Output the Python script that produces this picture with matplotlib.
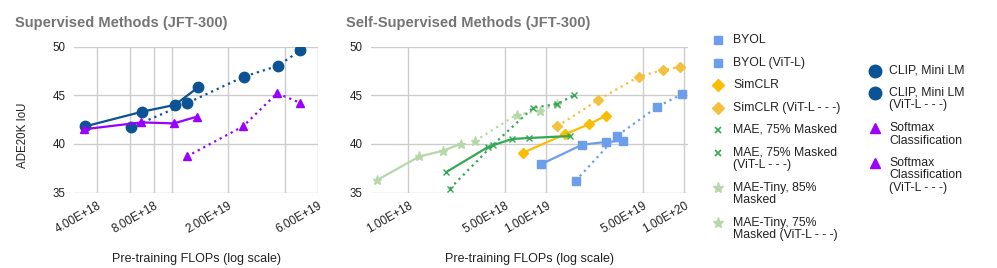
import matplotlib
matplotlib.use("Agg")
import matplotlib.pyplot as plt
from matplotlib.ticker import FixedLocator, FixedFormatter, NullLocator, NullFormatter

plt.rcParams['font.family'] = ['Liberation Sans', 'DejaVu Sans']

# ---------------- data ----------------
# Supervised (left)
clip_x = [3.45e18, 6.93e18, 1.036e19, 1.38e19]
clip_y = [41.8, 43.3, 44.0, 45.8]
clip_l_x = [6.08e18, 1.21e19, 2.42e19, 3.66e19, 4.85e19]
clip_l_y = [41.7, 44.2, 46.9, 48.0, 49.6]
soft_x = [3.41e18, 6.86e18, 1.024e19, 1.366e19]
soft_y = [41.5, 42.2, 42.1, 42.8]
soft_l_x = [1.2e19, 2.4e19, 3.64e19, 4.85e19]
soft_l_y = [38.7, 41.8, 45.2, 44.2]

# Self-supervised (right)
byol_x = [9.15e18, 1.81e19, 2.72e19, 3.61e19]
byol_y = [37.9, 39.9, 40.2, 40.3]
byol_l_x = [1.63e19, 3.24e19, 6.37e19, 9.62e19]
byol_l_y = [36.2, 40.8, 43.8, 45.1]
simclr_x = [6.81e18, 1.37e19, 2.03e19, 2.71e19]
simclr_y = [39.1, 41.0, 42.0, 42.9]
simclr_l_x = [1.2e19, 2.37e19, 4.67e19, 7.01e19, 9.35e19]
simclr_l_y = [41.8, 44.5, 46.9, 47.6, 47.9]
mae_x = [1.88e18, 3.8e18, 5.64e18, 7.53e18, 1.48e19]
mae_y = [37.1, 39.7, 40.5, 40.6, 40.8]
mae_l_x = [2.0e18, 4.1e18, 8.0e18, 1.2e19, 1.59e19]
mae_l_y = [35.4, 39.9, 43.7, 44.1, 45.0]
tiny_x = [5.96e17, 1.2e18, 1.79e18, 2.4e18]
tiny_y = [36.3, 38.7, 39.3, 40.0]
tiny_l_x = [3.04e18, 6.1e18, 9.05e18, 1.2e19]
tiny_l_y = [40.3, 43.0, 43.4, 44.1]

left_ticks = [4e18, 8e18, 2e19, 6e19]
left_ticklabels = ["4.00E+18", "8.00E+18", "2.00E+19", "6.00E+19"]
left_minor = [6e18, 1e19, 4e19]
right_ticks = [1e18, 5e18, 1e19, 5e19, 1e20]
right_ticklabels = ["1.00E+18", "5.00E+18", "1.00E+19", "5.00E+19", "1.00E+20"]
y_ticks = [35, 40, 45, 50]

titles = ["Supervised Methods (JFT-300)", "Self-Supervised Methods (JFT-300)"]
xlabel = "Pre-training FLOPs (log scale)"
ylabel = "ADE20K IoU"

legend_col1 = ["BYOL", "BYOL (ViT-L)", "SimCLR", "SimCLR (ViT-L - - -)",
               "MAE, 75% Masked", "MAE, 75% Masked\n(ViT-L - - -)",
               "MAE-Tiny, 85%\nMasked", "MAE-Tiny, 75%\nMasked (ViT-L - - -)"]
legend_col2 = ["CLIP, Mini LM", "CLIP, Mini LM\n(ViT-L - - -)",
               "Softmax\nClassification", "Softmax\nClassification\n(ViT-L - - -)"]

# ---------------- styles ----------------
C_BYOL = '#6d9eeb'
C_SIM = '#fbbc04'
C_SIM_L = '#f4c13e'
C_MAE = '#34a853'
C_TINY = '#b6d7a8'
C_CLIP = '#0b5394'
C_SOFT = '#9900ff'
GRID = '#cccccc'
TXT = '#222222'
DOT = (0, (1, 1.8))
LW = 1.6

W, H = 997, 268
fig = plt.figure(figsize=(W / 100, H / 100), dpi=100)

def px_axes(x0, x1, y0, y1):
    return fig.add_axes([x0 / W, 1 - y1 / H, (x1 - x0) / W, (y1 - y0) / H])

axL = px_axes(74, 318, 46.5, 192.5)
axR = px_axes(371, 688, 46.5, 192.5)

def style(ax, xlim, ticks, labels, minor):
    ax.set_xscale('log')
    ax.set_xlim(*xlim)
    ax.set_ylim(35, 50)
    ax.xaxis.set_major_locator(FixedLocator(ticks))
    ax.xaxis.set_major_formatter(FixedFormatter(labels))
    if minor:
        ax.xaxis.set_minor_locator(FixedLocator(minor))
    else:
        ax.xaxis.set_minor_locator(NullLocator())
    ax.xaxis.set_minor_formatter(NullFormatter())
    ax.set_yticks(y_ticks)
    ax.grid(True, which='both', color=GRID, lw=1)
    ax.set_axisbelow(True)
    for s in ax.spines.values():
        s.set_visible(False)
    ax.tick_params(axis='both', which='both', length=0, colors=TXT)
    ax.tick_params(axis='x', pad=5, labelsize=8.5)
    ax.tick_params(axis='y', pad=6, labelsize=8.3)
    for t in ax.get_xticklabels():
        t.set_rotation(30)
        t.set_ha('right')
        t.set_va('top')
        t.set_rotation_mode('anchor')
    ax.set_xlabel(xlabel, fontsize=9, color=TXT, labelpad=13)

style(axL, (3.0e18, 6.02e19), left_ticks, left_ticklabels, left_minor)
style(axR, (5.35e17, 1.064e20), right_ticks, right_ticklabels, None)

# Left panel
axL.plot(clip_x, clip_y, color=C_CLIP, lw=LW, marker='o', ms=7.5, zorder=3)
axL.plot(clip_l_x, clip_l_y, color=C_CLIP, lw=LW, ls=DOT, marker='o', ms=7.5, zorder=3)
axL.plot(soft_x, soft_y, color=C_SOFT, lw=LW, marker='^', ms=6, zorder=3)
axL.plot(soft_l_x, soft_l_y, color=C_SOFT, lw=LW, ls=DOT, marker='^', ms=6, zorder=3)

# Right panel
axR.plot(tiny_x, tiny_y, color=C_TINY, lw=LW, marker='*', ms=6.5, zorder=3)
axR.plot(tiny_l_x, tiny_l_y, color=C_TINY, lw=LW, ls=DOT, marker='*', ms=6.5, zorder=3)
axR.plot(mae_x, mae_y, color=C_MAE, lw=LW, marker='x', ms=4, mew=1, zorder=4)
axR.plot(mae_l_x, mae_l_y, color=C_MAE, lw=LW, ls=DOT, marker='x', ms=4, mew=1, zorder=4)
axR.plot(simclr_x, simclr_y, color=C_SIM, lw=LW, marker='D', ms=5.5, zorder=3)
axR.plot(simclr_l_x, simclr_l_y, color=C_SIM_L, lw=LW, ls=DOT, marker='D', ms=5.5, zorder=3)
axR.plot(byol_x, byol_y, color=C_BYOL, lw=LW, marker='s', ms=5.3, zorder=3)
axR.plot(byol_l_x, byol_l_y, color=C_BYOL, lw=LW, ls=DOT, marker='s', ms=5.3, zorder=3)

# Titles and y label
fig.text(15 / W, 1 - 22.5 / H, titles[0], fontsize=10.5, fontweight='bold',
         color='#757575', ha='left', va='center')
fig.text(346 / W, 1 - 22.5 / H, titles[1], fontsize=10.5, fontweight='bold',
         color='#757575', ha='left', va='center')
fig.text(22.5 / W, 1 - 135 / H, ylabel, fontsize=8.3, color=TXT, rotation=90,
         ha='center', va='center')

# Legend (drawn in a pixel-space overlay axes)
axG = fig.add_axes([0, 0, 1, 1])
axG.set_xlim(0, W)
axG.set_ylim(H, 0)
axG.axis('off')

col1_style = [(C_BYOL, 's', 6), (C_BYOL, 's', 6), (C_SIM, 'D', 6), (C_SIM_L, 'D', 6),
              (C_MAE, 'x', 5), (C_MAE, 'x', 5), (C_TINY, '*', 8), (C_TINY, '*', 8)]
col1_y = [40, 62.7, 85, 108, 130, 152.7, 187.7, 222.7]
col2_style = [(C_CLIP, 'o', 9), (C_CLIP, 'o', 9), (C_SOFT, '^', 7), (C_SOFT, '^', 7)]
col2_y = [70.7, 92.7, 128, 163]
LINE = 12.5

def draw_col(labels, styles, ys, mx, tx):
    for lab, (c, m, s), y in zip(labels, styles, ys):
        axG.plot([mx], [y], marker=m, color=c, ms=s, mew=1.2 if m == 'x' else 1, ls='none')
        for i, line in enumerate(lab.split('\n')):
            axG.text(tx, y + i * LINE, line, fontsize=8.8, color=TXT, ha='left', va='center')

draw_col(legend_col1, col1_style, col1_y, 718, 733)
draw_col(legend_col2, col2_style, col2_y, 875, 889)

fig.savefig('out.png', dpi=100)
